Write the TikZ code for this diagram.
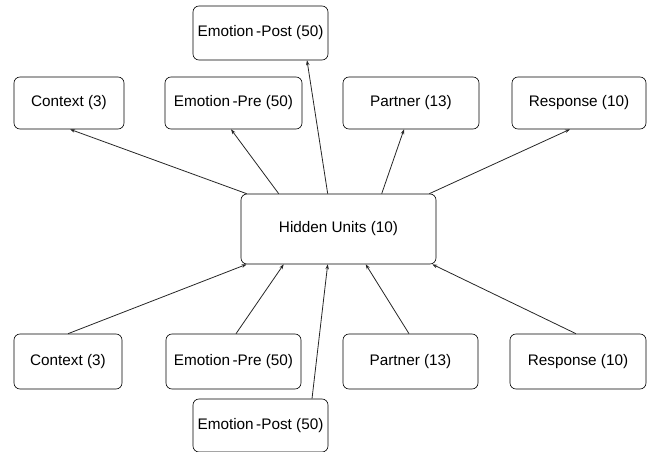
\documentclass[tikz,border=0pt]{standalone}
\usepackage{fontspec}
\setmainfont{Liberation Sans}
\usetikzlibrary{arrows.meta}
\begin{document}
\begin{tikzpicture}[x=1pt,y=-1pt,
  unit/.style={draw=black, line width=0.6pt, rounded corners=6pt, inner sep=0pt,
    font=\fontsize{15.3}{18}\selectfont},
  conn/.style={draw=black!85, line width=0.8pt, -{Stealth[length=5pt,width=3.5pt]}}]
\useasboundingbox (0,0) rectangle (651,452);
% top row
\node[unit, minimum width=110pt, minimum height=52pt] (ctxT) at (69,103) {Context (3)};
\node[unit, minimum width=137pt, minimum height=52pt] (preT) at (233.5,103) {Emotion\,-Pre (50)};
\node[unit, minimum width=135pt, minimum height=54pt] (postT) at (260.5,33) {Emotion\,-Post (50)};
\node[unit, minimum width=136pt, minimum height=52pt] (partT) at (411,103) {Partner (13)};
\node[unit, minimum width=134pt, minimum height=52pt] (respT) at (579,103) {Response (10)};
% hidden
\node[unit, minimum width=195pt, minimum height=70pt] (hid) at (338.5,229) {Hidden Units (10)};
% bottom row
\node[unit, minimum width=108pt, minimum height=55pt] (ctxB) at (68,361.5) {Context (3)};
\node[unit, minimum width=135pt, minimum height=55pt] (preB) at (233.5,361.5) {Emotion\,-Pre (50)};
\node[unit, minimum width=135pt, minimum height=55pt] (partB) at (410.5,361.5) {Partner (13)};
\node[unit, minimum width=136pt, minimum height=55pt] (respB) at (578,361.5) {Response (10)};
\node[unit, minimum width=135pt, minimum height=53pt] (postB) at (260.5,425.5) {Emotion\,-Post (50)};
% outgoing connectors
\draw[conn] ([xshift=6pt]hid.north west) -- ([xshift=1pt]ctxT.south);
\draw[conn] ([xshift=38pt]hid.north west) -- ([xshift=-2.5pt]preT.south);
\draw[conn] ([xshift=87pt]hid.north west) -- ([xshift=46.5pt]postT.south);
\draw[conn] ([xshift=141pt]hid.north west) -- ([xshift=-7pt]partT.south);
\draw[conn] ([xshift=-7pt]hid.north east) -- ([xshift=-9pt]respT.south);
% incoming connectors
\draw[conn] (ctxB.north) -- ([xshift=6pt]hid.south west);
\draw[conn] ([xshift=2.5pt]preB.north) -- ([xshift=43pt]hid.south west);
\draw[conn] ([xshift=51.5pt]postB.north) -- ([xshift=87pt]hid.south west);
\draw[conn] ([xshift=-1.5pt]partB.north) -- ([xshift=125pt]hid.south west);
\draw[conn] ([xshift=-2pt]respB.north) -- ([xshift=-4pt]hid.south east);
\end{tikzpicture}
\end{document}
